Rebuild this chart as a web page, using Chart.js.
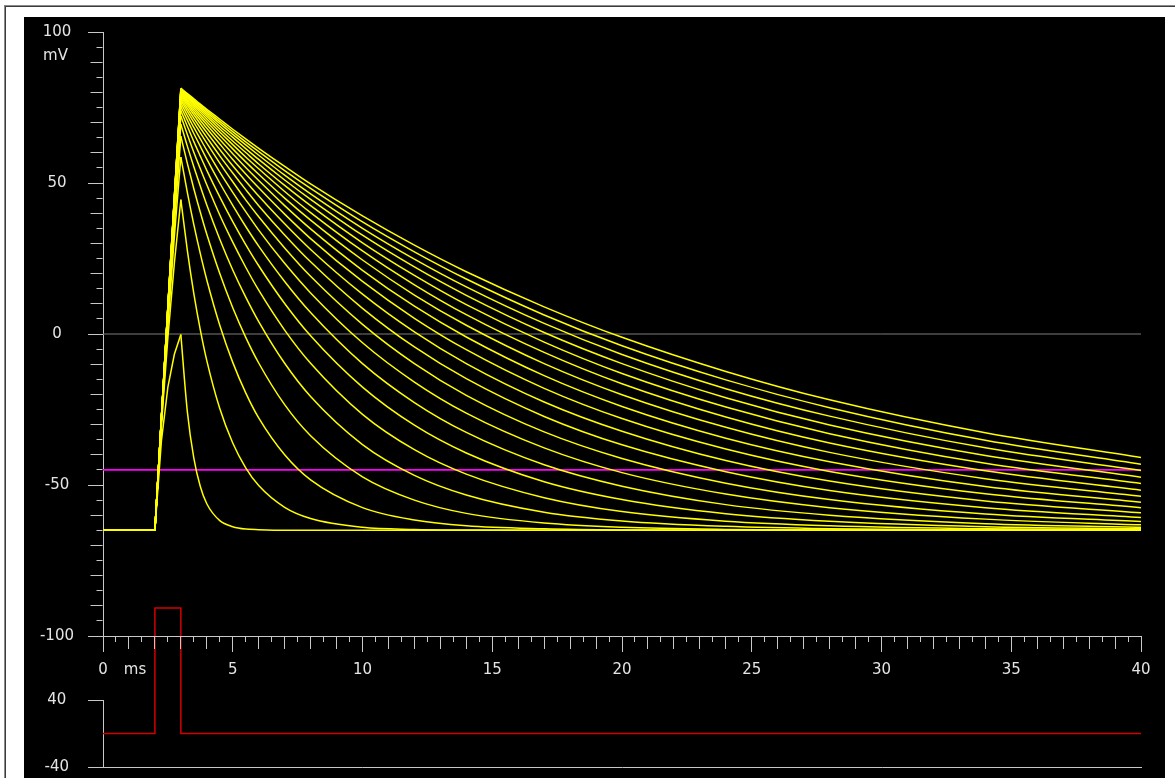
<!DOCTYPE html>
<html>
<head>
<meta charset="utf-8">
<script src="https://cdn.jsdelivr.net/npm/chart.js@4.4.1/dist/chart.umd.min.js"></script>
<style>
  html, body { margin: 0; padding: 0; width: 1175px; height: 778px; overflow: hidden; background: #ffffff; }
  #frame { position: absolute; left: 4px; top: 5px; width: 1171px; height: 773px;
           border-top: 1px solid #8a8a8a; border-left: 1px solid #8a8a8a; box-sizing: border-box; }
  #frame::before { content: ''; position: absolute; left: 0; top: 0; right: 0; bottom: 0;
           border-top: 1px solid #3c3c3c; border-left: 1px solid #3c3c3c; }
  #scope { position: absolute; left: 24px; top: 17px; width: 1141px; height: 761px; background: #000000; }
  canvas { position: absolute; }
  #stimCanvas { left: 24px; top: 548px; }
  #voltCanvas { left: 24px; top: 17px; }
</style>
</head>
<body>
<div id="frame"></div>
<div id="scope"></div>
<canvas id="stimCanvas" width="1141" height="230"></canvas>
<canvas id="voltCanvas" width="1141" height="683"></canvas>
<script>
// Membrane time constant of each trace (ms), used as series names
const traceTau = [0.5, 1.5, 2.5, 3.5, 4.5, 5.5, 6.5, 7.5, 8.5, 9.5, 10.5,
                  11.5, 12.5, 13.5, 14.5, 15.5, 16.5, 17.5, 18.5, 19.5, 20.5];

// Charging phase: sample times (ms) and membrane potential (mV) per trace
const riseTimes = [0, 2, 2.25, 2.5, 2.75, 3];
const riseMv = [
  [-65, -65, -35.5, -17.6, -6.7, -0.2],
  [-65, -65, -30.5, -1.2, 23.5, 44.5],
  [-65, -65, -29.3, 3.0, 32.2, 58.6],
  [-65, -65, -28.8, 4.9, 36.3, 65.5],
  [-65, -65, -28.5, 6.0, 38.6, 69.5],
  [-65, -65, -28.3, 6.7, 40.2, 72.2],
  [-65, -65, -28.2, 7.2, 41.3, 74.0],
  [-65, -65, -28.1, 7.6, 42.1, 75.4],
  [-65, -65, -28.1, 7.8, 42.7, 76.5],
  [-65, -65, -28.0, 8.1, 43.2, 77.4],
  [-65, -65, -27.9, 8.2, 43.6, 78.1],
  [-65, -65, -27.9, 8.4, 43.9, 78.7],
  [-65, -65, -27.9, 8.5, 44.2, 79.2],
  [-65, -65, -27.9, 8.6, 44.4, 79.6],
  [-65, -65, -27.8, 8.7, 44.6, 80.0],
  [-65, -65, -27.8, 8.8, 44.8, 80.3],
  [-65, -65, -27.8, 8.9, 45.0, 80.5],
  [-65, -65, -27.8, 8.9, 45.1, 80.8],
  [-65, -65, -27.8, 9.0, 45.3, 81.0],
  [-65, -65, -27.7, 9.1, 45.4, 81.2],
  [-65, -65, -27.7, 9.1, 45.5, 81.4]
];

// Relaxation phase after the pulse: sample times (ms) and potential (mV) per trace
const decayTimes = [3, 3.25, 3.5, 3.75, 4, 4.5, 5, 5.5, 6, 7, 8, 10, 12, 14, 17, 20, 24, 28, 34, 40];
const decayMv = [
  [-0.2, -25.7, -41.1, -50.5, -56.2, -61.8, -63.8, -64.6, -64.8, -65.0, -65.0, -65.0, -65.0, -65.0, -65.0, -65.0, -65.0, -65.0, -65.0, -65.0],
  [44.5, 27.7, 13.4, 1.4, -8.8, -24.7, -36.1, -44.3, -50.2, -57.4, -61.1, -64.0, -64.7, -64.9, -65.0, -65.0, -65.0, -65.0, -65.0, -65.0],
  [58.6, 46.9, 36.2, 26.6, 17.9, 2.9, -9.4, -19.5, -27.8, -40.0, -48.3, -57.5, -61.6, -63.5, -64.5, -64.9, -65.0, -65.0, -65.0, -65.0],
  [65.5, 56.5, 48.1, 40.3, 33.0, 20.0, 8.7, -1.1, -9.6, -23.4, -33.7, -47.3, -55.0, -59.4, -62.6, -64.0, -64.7, -64.9, -65.0, -65.0],
  [69.5, 62.2, 55.4, 48.9, 42.7, 31.4, 21.2, 12.2, 4.1, -9.7, -20.7, -36.6, -46.8, -53.3, -59.0, -61.9, -63.7, -64.5, -64.9, -65.0],
  [72.2, 66.1, 60.2, 54.7, 49.4, 39.4, 30.4, 22.1, 14.5, 1.3, -9.7, -26.6, -38.3, -46.4, -54.2, -58.8, -62.0, -63.5, -64.5, -64.8],
  [74.0, 68.8, 63.7, 58.9, 54.2, 45.4, 37.2, 29.6, 22.6, 10.1, -0.6, -17.6, -30.2, -39.4, -48.9, -54.8, -59.5, -62.0, -63.8, -64.5],
  [75.4, 70.8, 66.4, 62.1, 57.9, 50.0, 42.6, 35.6, 29.1, 17.4, 7.1, -9.8, -22.7, -32.6, -43.3, -50.4, -56.5, -60.0, -62.8, -64.0],
  [76.5, 72.4, 68.4, 64.6, 60.8, 53.6, 46.9, 40.5, 34.4, 23.4, 13.6, -2.9, -15.9, -26.2, -37.7, -45.9, -53.0, -57.5, -61.3, -63.2],
  [77.4, 73.7, 70.1, 66.6, 63.2, 56.6, 50.4, 44.4, 38.8, 28.5, 19.1, 3.2, -9.8, -20.3, -32.4, -41.2, -49.4, -54.8, -59.6, -62.1],
  [78.1, 74.7, 71.4, 68.2, 65.1, 59.0, 53.3, 47.8, 42.5, 32.8, 23.9, 8.5, -4.3, -14.8, -27.3, -36.7, -45.6, -51.8, -57.5, -60.8],
  [78.7, 75.6, 72.6, 69.6, 66.7, 61.1, 55.7, 50.6, 45.7, 36.5, 28.0, 13.2, 0.7, -9.8, -22.5, -32.2, -41.9, -48.7, -55.3, -59.2],
  [79.2, 76.3, 73.5, 70.8, 68.1, 62.9, 57.8, 53.0, 48.4, 39.7, 31.6, 17.4, 5.2, -5.2, -18.0, -28.0, -38.1, -45.5, -52.9, -57.5],
  [79.6, 76.9, 74.3, 71.8, 69.3, 64.4, 59.7, 55.1, 50.8, 42.5, 34.8, 21.1, 9.2, -1.0, -13.8, -24.0, -34.5, -42.3, -50.5, -55.7],
  [80.0, 77.5, 75.0, 72.6, 70.3, 65.7, 61.3, 57.0, 52.9, 45.0, 37.7, 24.5, 12.9, 2.9, -9.8, -20.1, -30.9, -39.2, -47.9, -53.7],
  [80.3, 77.9, 75.7, 73.4, 71.2, 66.9, 62.7, 58.6, 54.7, 47.2, 40.2, 27.5, 16.3, 6.4, -6.1, -16.5, -27.5, -36.1, -45.3, -51.7],
  [80.5, 78.4, 76.2, 74.1, 72.0, 67.9, 63.9, 60.1, 56.3, 49.2, 42.5, 30.2, 19.4, 9.7, -2.7, -13.1, -24.2, -33.0, -42.8, -49.5],
  [80.8, 78.7, 76.7, 74.7, 72.7, 68.8, 65.1, 61.4, 57.8, 51.0, 44.6, 32.7, 22.2, 12.8, 0.5, -9.8, -21.1, -30.1, -40.2, -47.4],
  [81.0, 79.1, 77.1, 75.2, 73.3, 69.7, 66.1, 62.6, 59.2, 52.6, 46.4, 35.0, 24.8, 15.6, 3.5, -6.8, -18.1, -27.2, -37.7, -45.2],
  [81.2, 79.4, 77.5, 75.7, 73.9, 70.4, 67.0, 63.6, 60.4, 54.1, 48.2, 37.1, 27.2, 18.2, 6.3, -3.9, -15.2, -24.4, -35.2, -43.1],
  [81.4, 79.6, 77.9, 76.1, 74.4, 71.1, 67.8, 64.6, 61.5, 55.5, 49.7, 39.1, 29.4, 20.6, 9.0, -1.1, -12.4, -21.8, -32.7, -40.9]
];

// Horizontal reference levels (mV)
const zeroLevelMv = 0;
const thresholdMv = -45;

// Injected current pulse and its axis ticks
const stimTimes = [0, 2, 2, 3, 3, 40];
const stimValues = [0, 0, 150, 150, 0, 0];
const stimTicks = [-40, 40];

// ---- styling ----
const FONT = "'DejaVu Sans', sans-serif";
const FONT_SIZE = 15;
const LINE_H = FONT_SIZE * 1.2;
const AXIS_COLOR = '#c8c8c8';
const TEXT_COLOR = '#e4e4e4';
const YELLOW = '#ffff00';
const TRACE_W = 1.5;
const AXIS_W = 79;           // width reserved for the vertical axes
const LABEL_CENTER = 32.5;   // centre of the y tick labels, canvas px
const X_TICK_LEN = 16;
const X_LABEL_PAD = 9;

Chart.defaults.font.family = FONT;
Chart.defaults.font.size = FONT_SIZE;
Chart.defaults.color = TEXT_COLOR;

const meas = document.createElement('canvas').getContext('2d');
meas.font = FONT_SIZE + 'px ' + FONT;
const widthOf = s => meas.measureText(s).width;
const padVolt = Math.round(AXIS_W - 15 - LABEL_CENTER - widthOf('-100') / 2);
const padStim = Math.round(AXIS_W - 15 - LABEL_CENTER - widthOf('-40') / 2);

const pairs = (xs, ys) => xs.map((x, i) => ({ x: x, y: ys[i] }));

// Size the plot area to the wanted height, then slide the canvas so the
// plot area lands on the wanted page rows.
function pinPlotArea(chart, pad, pageTop, pageBottom, adjustTop) {
  const wanted = pageBottom - pageTop;
  for (let k = 0; k < 6; k++) {
    const a = chart.chartArea;
    const d = (a.bottom - a.top) - wanted;
    if (Math.abs(d) < 0.01) break;
    if (adjustTop) pad.top += d; else pad.bottom += d;
    chart.update();
  }
  chart.canvas.style.top = Math.round(pageTop - chart.chartArea.top) + 'px';
}

// ---- membrane potential panel ----
const voltDatasets = [];
traceTau.forEach((tau, i) => {
  voltDatasets.push({
    label: 'tau ' + tau + ' rise',
    data: pairs(riseTimes, riseMv[i]),
    borderColor: YELLOW, borderWidth: TRACE_W, pointRadius: 0, tension: 0, order: 0
  });
  voltDatasets.push({
    label: 'tau ' + tau + ' decay',
    data: pairs(decayTimes, decayMv[i]),
    borderColor: YELLOW, borderWidth: TRACE_W, pointRadius: 0,
    cubicInterpolationMode: 'monotone', order: 0
  });
});
voltDatasets.push({
  label: 'zero', data: [{ x: 0, y: zeroLevelMv }, { x: 40, y: zeroLevelMv }],
  borderColor: '#7c7c7c', borderWidth: 1, pointRadius: 0, order: 1
});
voltDatasets.push({
  label: 'threshold', data: [{ x: 0, y: thresholdMv }, { x: 40, y: thresholdMv }],
  borderColor: '#ff00ff', borderWidth: 1.8, pointRadius: 0, order: 1
});

const unitLabels = {
  id: 'unitLabels',
  afterDraw(chart) {
    const { ctx, scales } = chart;
    ctx.save();
    ctx.font = FONT_SIZE + 'px ' + FONT;
    ctx.fillStyle = TEXT_COLOR;
    ctx.textAlign = 'center';
    ctx.textBaseline = 'middle';
    ctx.fillText('mV', LABEL_CENTER - 1, scales.y.getPixelForValue(100) + 24);
    ctx.fillText('ms', scales.x.getPixelForValue(0) + 32,
                 scales.x.top + X_TICK_LEN + X_LABEL_PAD + LINE_H / 2);
    ctx.restore();
  }
};

const voltPad = { top: 15, right: 24, bottom: 24, left: 0 };
const voltChart = new Chart(document.getElementById('voltCanvas'), {
  type: 'line',
  data: { datasets: voltDatasets },
  options: {
    responsive: false, animation: false, devicePixelRatio: 1, events: [],
    layout: { padding: voltPad },
    plugins: { legend: { display: false }, tooltip: { enabled: false } },
    scales: {
      x: {
        type: 'linear', min: 0, max: 40, position: 'bottom',
        afterFit: s => { s.height = 40; },
        border: { display: true, color: AXIS_COLOR, width: 1 },
        grid: {
          drawOnChartArea: false, drawTicks: true, tickLength: X_TICK_LEN,
          tickColor: AXIS_COLOR, tickWidth: 1,
          tickBorderDash: c => {
            if (!c.tick) return [];
            const v = c.tick.value;
            if (v % 5 === 0) return [];
            if (v % 1 === 0) return [12, 60];
            return [5, 60];
          }
        },
        ticks: {
          stepSize: 0.5, autoSkip: false, maxTicksLimit: 1000,
          maxRotation: 0, minRotation: 0, padding: X_LABEL_PAD, color: TEXT_COLOR,
          callback: v => (v % 5 === 0 ? String(v) : '')
        }
      },
      y: {
        type: 'linear', min: -100, max: 100, position: 'left',
        afterFit: s => { s.width = AXIS_W; },
        border: { display: true, color: AXIS_COLOR, width: 1 },
        grid: {
          drawOnChartArea: false, drawTicks: true, tickLength: 15,
          tickColor: AXIS_COLOR, tickWidth: 1,
          tickBorderDash: c => {
            if (!c.tick) return [];
            const v = c.tick.value;
            if (v % 50 === 0) return [];
            if (v % 10 === 0) return [0, 2.5, 12, 60];
            return [0, 8.5, 6, 60];
          }
        },
        ticks: {
          stepSize: 5, autoSkip: false, maxTicksLimit: 1000,
          crossAlign: 'center', padding: padVolt, color: TEXT_COLOR,
          callback: v => (v % 50 === 0 ? String(v) : '')
        }
      }
    }
  },
  plugins: [unitLabels]
});
pinPlotArea(voltChart, voltPad, 32, 636, false);

// ---- stimulus panel ----
const stimPad = { top: 152, right: 24, bottom: 11, left: 0 };
const stimChart = new Chart(document.getElementById('stimCanvas'), {
  type: 'line',
  data: {
    datasets: [{
      label: 'stimulus', data: pairs(stimTimes, stimValues),
      borderColor: '#d40000', borderWidth: 1.5, pointRadius: 0, tension: 0, clip: false
    }]
  },
  options: {
    responsive: false, animation: false, devicePixelRatio: 1, events: [],
    layout: { padding: stimPad },
    plugins: { legend: { display: false }, tooltip: { enabled: false } },
    scales: {
      x: {
        type: 'linear', min: 0, max: 40, position: 'bottom',
        afterFit: s => { s.height = 0; },
        border: { display: true, color: AXIS_COLOR, width: 1 },
        grid: { drawOnChartArea: false, drawTicks: false },
        ticks: { display: false }
      },
      y: {
        type: 'linear', min: -40, max: 40, position: 'left',
        afterFit: s => { s.width = AXIS_W; },
        afterBuildTicks: s => { s.ticks = stimTicks.map(v => ({ value: v })); },
        border: { display: true, color: AXIS_COLOR, width: 1 },
        grid: { drawOnChartArea: false, drawTicks: true, tickLength: 15, tickColor: AXIS_COLOR },
        ticks: {
          autoSkip: false, crossAlign: 'center',
          padding: padStim, color: TEXT_COLOR, callback: v => String(v)
        }
      }
    }
  }
});
pinPlotArea(stimChart, stimPad, 700, 767, true);
</script>
</body>
</html>
